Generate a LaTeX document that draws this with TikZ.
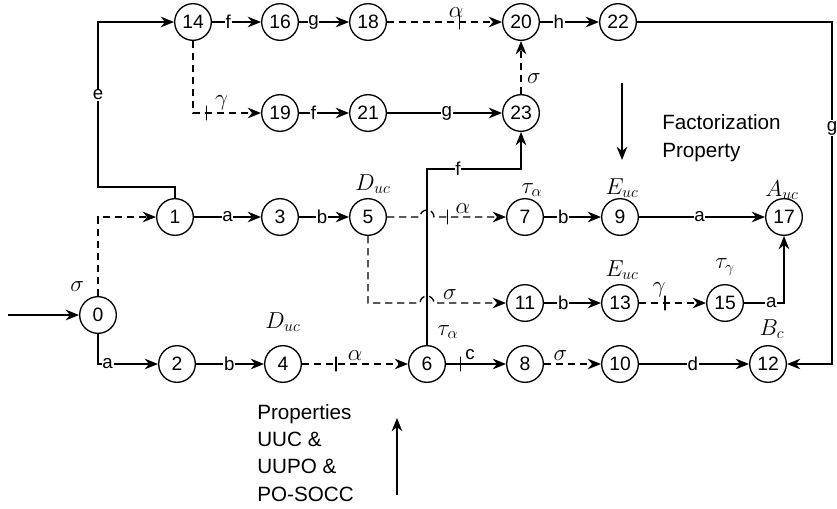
\documentclass[tikz,border=0pt]{standalone}
\usepackage{fontspec}
\setmainfont{Liberation Sans}
\usepackage{tikz}
\usetikzlibrary{arrows.meta,calc}
\tikzset{
  stnode/.style={draw, circle, line width=1pt, minimum size=27.5pt, inner sep=0pt, font=\fontsize{14.5}{16}\selectfont},
  trans/.style={-{Stealth[length=10pt,width=8pt]}, line width=1pt},
  dtrans/.style={trans, dash pattern=on 5.5pt off 3.5pt},
  evlabel/.style={fill=white, inner sep=0.6pt, font=\fontsize{14}{16}\selectfont},
  evmark/.style={draw, solid, line width=1pt, minimum width=0pt, minimum height=11pt, inner sep=0pt},
  glabel/.style={inner sep=1pt, font=\fontsize{16.5}{18}\selectfont},
  proptext/.style={align=left, inner sep=0pt, font=\fontsize{15.5}{20.5}\selectfont}
}
\begin{document}
\begin{tikzpicture}[x=0.75pt, y=-0.75pt]
  \useasboundingbox (0,0) rectangle (837,508);

  \node[stnode] (n0) at (98,315) {0};
  \node[stnode] (n1) at (175,217) {1};
  \node[stnode] (n2) at (177,364) {2};
  \node[stnode] (n3) at (280,217) {3};
  \node[stnode] (n4) at (283,364) {4};
  \node[stnode] (n5) at (368,217) {5};
  \node[stnode] (n6) at (427,364) {6};
  \node[stnode] (n7) at (525,217) {7};
  \node[stnode] (n8) at (525,364) {8};
  \node[stnode] (n9) at (620,217) {9};
  \node[stnode] (n10) at (620,364) {10};
  \node[stnode] (n11) at (525,303) {11};
  \node[stnode] (n12) at (768,364) {12};
  \node[stnode] (n13) at (620,303) {13};
  \node[stnode] (n14) at (193,22) {14};
  \node[stnode] (n15) at (725,303) {15};
  \node[stnode] (n16) at (280,22) {16};
  \node[stnode] (n17) at (784,217) {17};
  \node[stnode] (n18) at (368,22) {18};
  \node[stnode] (n19) at (280,113) {19};
  \node[stnode] (n20) at (521,22) {20};
  \node[stnode] (n21) at (368,113) {21};
  \node[stnode] (n22) at (618,22) {22};
  \node[stnode] (n23) at (521,113) {23};

  \node[glabel] (l5) at (373,184) {$D_{uc}$};
  \node[glabel] (l4) at (283,322) {$D_{uc}$};
  \node[glabel] (l7) at (532,190) {$\tau_\alpha$};
  \node[glabel] (l9) at (622,188) {$E_{uc}$};
  \node[glabel] (l17) at (782,190) {$A_{uc}$};
  \node[glabel] (l13) at (622,270) {$E_{uc}$};
  \node[glabel] (l15) at (725,267) {$\tau_\gamma$};
  \node[glabel] (l6) at (448,332) {$\tau_\alpha$};
  \node[glabel] (l12) at (772,329) {$B_c$};

  \coordinate (init) at (8,315);
  \coordinate (ecorner) at (98,187);
  \coordinate (fturn) at (427,169);
  \coordinate (gtop) at (832,22);
  \coordinate (gbot) at (832,364);

  \draw[trans] (init) -- (n0);
  \draw[dtrans] (n0) |- (n1) node[glabel, pos=0.06, left=9pt] {$\sigma$};
  \draw[trans] (n0) |- (n2) node[evlabel, pos=0.58] {a};
  \draw[trans] (n1) |- (ecorner) |- (n14) node[evlabel, pos=0.28] {e};

  \draw[trans] (n14) -- (n16) node[evlabel, pos=0.33] {f};
  \draw[trans] (n16) -- (n18) node[evlabel, pos=0.29] {g};
  \draw[dtrans] (n18) -- (n20) node[evmark, pos=0.63] {} node[glabel, pos=0.6, above=2pt] {$\alpha$};
  \draw[trans] (n20) -- (n22) node[evlabel, pos=0.32] {h};
  \draw[trans] (n22) -- (gtop) -- (gbot) node[evlabel, pos=0.31] {g} -- (n12);

  \draw[dtrans] (n14) |- (n19) node[evmark, pos=0.6] {} node[glabel, pos=0.71, above=1pt] {$\gamma$};
  \draw[trans] (n19) -- (n21) node[evlabel, pos=0.29] {f};
  \draw[trans] (n21) -- (n23) node[evlabel, pos=0.52] {g};
  \draw[dtrans] (n23) -- (n20) node[glabel, pos=0.3, right=3pt] {$\sigma$};

  \draw[trans] (n1) -- (n3) node[evlabel, pos=0.5] {a};
  \draw[trans] (n3) -- (n5) node[evlabel, pos=0.46] {b};
  \draw[dtrans] (n5) -- ($(n5 -| n6)+(-7,0)$) arc[start angle=180, end angle=360, radius=7] -- (n7)
    node[evmark, pos=0.19] {} node[glabel, pos=0.4, above=1pt] {$\alpha$};
  \draw[dtrans] (n5) |- ($(n11 -| n6)+(-7,0)$) arc[start angle=180, end angle=360, radius=7] -- (n11)
    node[glabel, pos=0.22, above=1pt] {$\sigma$};
  \draw[trans] (n6) -- (fturn) -| (n23) node[evlabel, pos=0.165] {f};

  \draw[trans] (n7) -- (n9) node[evlabel, pos=0.34] {b};
  \draw[trans] (n9) -- (n17) node[evlabel, pos=0.48] {a};
  \draw[trans] (n11) -- (n13) node[evlabel, pos=0.34] {b};
  \draw[dtrans] (n13) -- (n15) node[evmark, pos=0.39] {} node[glabel, pos=0.3, above=3pt] {$\gamma$};
  \draw[trans] (n15) -| (n17) node[evlabel, pos=0.34] {a};

  \draw[trans] (n2) -- (n4) node[evlabel, pos=0.49] {b};
  \draw[dtrans] (n4) -- (n6) node[evmark, pos=0.32] {} node[glabel, pos=0.5, above=1pt] {$\alpha$};
  \draw[trans] (n6) -- (n8) node[evmark, pos=0.24] {} node[evlabel, fill=none, pos=0.4, above=2pt] {c};
  \draw[dtrans] (n8) -- (n10) node[glabel, pos=0.29, above=1pt] {$\sigma$};
  \draw[trans] (n10) -- (n12) node[evlabel, pos=0.49] {d};

  \coordinate (fdown1) at (622,83);
  \coordinate (fdown2) at (622,160);
  \draw[trans] (fdown1) -- (fdown2);
  \node[proptext, anchor=west] (fprop) at (662,138) {Factorization\\Property};

  \coordinate (pup1) at (397,495);
  \coordinate (pup2) at (397,418);
  \draw[trans] (pup1) -- (pup2);
  \node[proptext, anchor=north west] (pprop) at (257,404) {Properties\\UUC \&\\UUPO \&\\PO-SOCC};
\end{tikzpicture}
\end{document}
